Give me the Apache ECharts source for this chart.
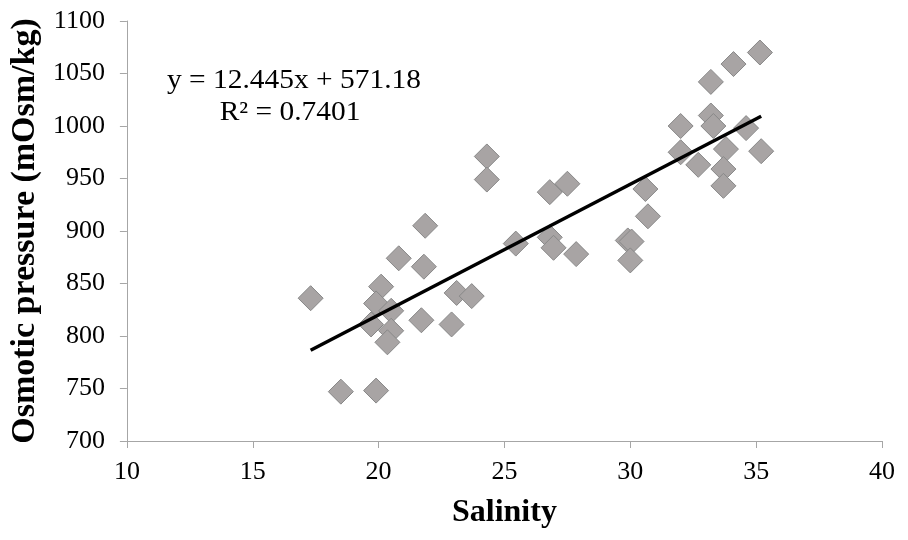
<!DOCTYPE html>
<html>
<head>
<meta charset="utf-8">
<script src="https://cdn.jsdelivr.net/npm/echarts@6/dist/echarts.min.js"></script>
<style>
html,body{margin:0;padding:0;background:#fff;}
#chart{width:908px;height:540px;}
</style>
</head>
<body>
<div id="chart"></div>
<script>
// Data
var salinity = [17.3, 18.5, 19.9, 20.8, 21.8, 21.85, 20.1, 19.9, 20.5, 19.7, 20.5, 20.35, 21.7, 22.9, 23.1, 23.7,
  24.3, 24.3, 26.8, 27.5, 25.45, 26.8, 26.95, 27.85, 29.9, 30.05, 30.0, 30.6, 30.7,
  35.15, 34.1, 33.2, 33.2, 33.3, 32.0, 34.6, 32.0, 32.7, 33.8, 35.2, 33.7, 33.7];
var osmotic = [836, 747, 748, 874, 866, 905, 847, 831, 824, 811, 805, 794, 815, 811, 841, 838,
  971, 949, 937, 945, 888, 894, 884, 878, 891, 890, 872, 940, 914,
  1070, 1059, 1042, 1010, 1000, 1000, 998, 975, 963, 978, 976, 959, 943];
var slope = 12.445;
var intercept = 571.18;
var rSquared = '0.7401';
var xTicks = [10, 15, 20, 25, 30, 35, 40];
var yTicks = [700, 750, 800, 850, 900, 950, 1000, 1050, 1100];

var points = salinity.map(function (s, i) { return [s, osmotic[i]]; });
var xMin = Math.min.apply(null, salinity);
var xMax = Math.max.apply(null, salinity);
var trend = [[xMin, slope * xMin + intercept], [xMax, slope * xMax + intercept]];

var serif = '"Liberation Serif", "Times New Roman", serif';
var chart = echarts.init(document.getElementById('chart'), null, {renderer: 'canvas'});
chart.setOption({
  animation: false,
  backgroundColor: '#ffffff',
  grid: {left: 125, right: 26, top: 21, bottom: 99, containLabel: false},
  xAxis: {
    type: 'value', min: xTicks[0], max: xTicks[xTicks.length - 1], interval: 5,
    name: 'Salinity', nameLocation: 'middle', nameGap: 56,
    nameTextStyle: {fontFamily: serif, fontSize: 32, fontWeight: 'bold', color: '#000'},
    axisLine: {show: true, lineStyle: {color: '#a6a6a6', width: 1}},
    axisTick: {show: true, length: 7, lineStyle: {color: '#a6a6a6'}},
    axisLabel: {fontFamily: serif, fontSize: 26, color: '#000', margin: 18,
      formatter: function (v) { return String(v); }},
    splitLine: {show: false}
  },
  yAxis: {
    type: 'value', min: yTicks[0], max: yTicks[yTicks.length - 1], interval: 50,
    name: 'Osmotic pressure (mOsm/kg)', nameLocation: 'middle', nameGap: 82,
    nameTextStyle: {fontFamily: serif, fontSize: 34, fontWeight: 'bold', color: '#000'},
    axisLine: {show: true, lineStyle: {color: '#a6a6a6', width: 1}},
    axisTick: {show: true, length: 7, lineStyle: {color: '#a6a6a6'}},
    axisLabel: {fontFamily: serif, fontSize: 26, color: '#000', margin: 22,
      formatter: function (v) { return String(v); }},
    splitLine: {show: false}
  },
  series: [
    {
      type: 'scatter', data: points, symbol: 'diamond', symbolSize: 25,
      itemStyle: {color: '#a8a4a4', borderColor: '#888888', borderWidth: 1, opacity: 1},
      z: 2
    },
    {
      type: 'line', data: trend, showSymbol: false, symbol: 'none',
      lineStyle: {color: '#000000', width: 3.5},
      z: 3
    }
  ],
  graphic: [
    {
      type: 'text', x: 294, y: 67, scaleX: 1.09, z: 10,
      style: {text: 'y = ' + slope + 'x + ' + intercept, font: '27px ' + serif, fill: '#000',
        align: 'center', verticalAlign: 'top'}
    },
    {
      type: 'text', x: 290, y: 99, scaleX: 1.09, z: 10,
      style: {text: 'R² = ' + rSquared, font: '27px ' + serif, fill: '#000',
        align: 'center', verticalAlign: 'top'}
    }
  ]
});
</script>
</body>
</html>
